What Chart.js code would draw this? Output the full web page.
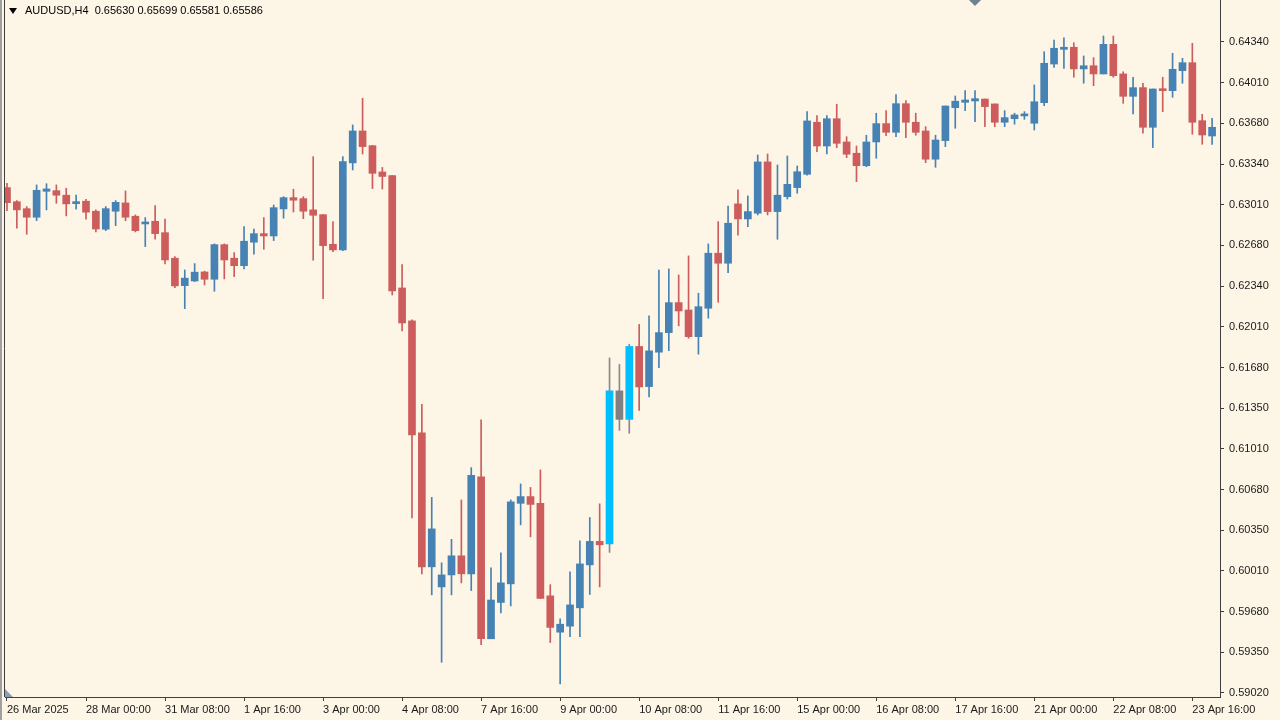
<!DOCTYPE html>
<html>
<head>
<meta charset="utf-8">
<title>AUDUSD,H4</title>
<script src="https://cdn.jsdelivr.net/npm/chart.js@4.4.1/dist/chart.umd.min.js"></script>
<style>
  html, body { margin: 0; padding: 0; background: #fdf5e6; }
  #wrap { position: relative; width: 1280px; height: 720px; overflow: hidden; background: #fdf5e6; }
  #chart { position: absolute; left: 0; top: 0; }
  #header {
    position: absolute; left: 25px; top: 4px;
    font: 11px "Liberation Sans", Arial, sans-serif; color: #000; white-space: pre;
  }
  #menuArrow {
    position: absolute; left: 9px; top: 8px; width: 0; height: 0;
    border-left: 4px solid transparent; border-right: 4px solid transparent; border-top: 6px solid #000;
  }
  #shiftMark {
    position: absolute; left: 969px; top: 0; width: 0; height: 0;
    border-left: 6px solid transparent; border-right: 6px solid transparent; border-top: 6px solid #6f8193;
  }
  #cornerMark {
    position: absolute; left: 5px; top: 689px; width: 0; height: 0;
    border-right: 8px solid transparent; border-bottom: 8px solid #8aa0b6;
  }
  #leftEdge { position: absolute; left: 0; top: 0; width: 2px; height: 720px; background: #a0a0a0; }
</style>
</head>
<body>
<div id="wrap">
  <canvas id="chart" width="1280" height="720"></canvas>
  <div id="leftEdge"></div>
  <div id="menuArrow"></div>
  <div id="header">AUDUSD,H4  0.65630 0.65699 0.65581 0.65586</div>
  <div id="shiftMark"></div>
  <div id="cornerMark"></div>
</div>
<script>
// H4 candles (oldest first)
const opens = [
  0.63150, 0.63035, 0.62978, 0.62908, 0.63120, 0.63125, 0.63088, 0.63019, 0.63039, 0.62957,
  0.62810, 0.62957, 0.63025, 0.62916, 0.62853, 0.62875, 0.62782, 0.62573, 0.62349, 0.62387,
  0.62461, 0.62401, 0.62684, 0.62573, 0.62512, 0.62704, 0.62774, 0.62755, 0.62976, 0.63068,
  0.63060, 0.62968, 0.62929, 0.62687, 0.62641, 0.63352, 0.63613, 0.63493, 0.63278, 0.63249,
  0.62330, 0.62061, 0.61146, 0.60051, 0.59887, 0.59985, 0.60141, 0.59994, 0.60786, 0.59463,
  0.59760, 0.59912, 0.60570, 0.60625, 0.60570, 0.59814, 0.59517, 0.59566, 0.59716, 0.60067,
  0.60259, 0.60239, 0.61489, 0.61256, 0.61852, 0.61524, 0.61805, 0.61965, 0.62210, 0.62150,
  0.61932, 0.62164, 0.62614, 0.62532, 0.63017, 0.62894, 0.62941, 0.63360, 0.62954, 0.63076,
  0.63150, 0.63259, 0.63684, 0.63490, 0.63713, 0.63523, 0.63431, 0.63329, 0.63523, 0.63673,
  0.63602, 0.63836, 0.63684, 0.63613, 0.63382, 0.63534, 0.63803, 0.63847, 0.63858, 0.63874,
  0.63834, 0.63684, 0.63713, 0.63736, 0.63676, 0.63844, 0.64160, 0.64280, 0.64297, 0.64120,
  0.64146, 0.64079, 0.64321, 0.64079, 0.63896, 0.63967, 0.63643, 0.63956, 0.63942, 0.64106,
  0.64171, 0.63697, 0.63572
];
const highs = [
  0.63185, 0.63044, 0.62995, 0.63172, 0.63182, 0.63172, 0.63145, 0.63090, 0.63055, 0.62968,
  0.62995, 0.63044, 0.63123, 0.62927, 0.62905, 0.63003, 0.62892, 0.62586, 0.62477, 0.62529,
  0.62467, 0.62690, 0.62690, 0.62619, 0.62831, 0.62812, 0.62905, 0.63008, 0.63076, 0.63137,
  0.63076, 0.63403, 0.62929, 0.62872, 0.63403, 0.63662, 0.63880, 0.63493, 0.63315, 0.63249,
  0.62522, 0.62069, 0.61378, 0.60619, 0.60084, 0.60276, 0.60598, 0.60862, 0.61252, 0.60043,
  0.60165, 0.60598, 0.60729, 0.60700, 0.60843, 0.59905, 0.59626, 0.60010, 0.60263, 0.60454,
  0.60566, 0.61758, 0.61705, 0.61869, 0.62032, 0.62102, 0.62477, 0.62486, 0.62436, 0.62592,
  0.62287, 0.62690, 0.62872, 0.63000, 0.63131, 0.63082, 0.63417, 0.63425, 0.63335, 0.63409,
  0.63327, 0.63771, 0.63738, 0.63738, 0.63831, 0.63566, 0.63490, 0.63578, 0.63758, 0.63779,
  0.63910, 0.63861, 0.63758, 0.63648, 0.63578, 0.63817, 0.63899, 0.63942, 0.63942, 0.63874,
  0.63834, 0.63779, 0.63758, 0.63771, 0.63989, 0.64261, 0.64356, 0.64375, 0.64334, 0.64226,
  0.64212, 0.64389, 0.64389, 0.64097, 0.64052, 0.64003, 0.63956, 0.64052, 0.64248, 0.64207,
  0.64329, 0.63749, 0.63717
];
const lows = [
  0.62961, 0.62818, 0.62769, 0.62880, 0.62968, 0.63022, 0.62919, 0.62973, 0.62892, 0.62788,
  0.62798, 0.62839, 0.62880, 0.62788, 0.62668, 0.62728, 0.62526, 0.62333, 0.62161, 0.62382,
  0.62355, 0.62303, 0.62404, 0.62423, 0.62486, 0.62606, 0.62646, 0.62717, 0.62900, 0.62951,
  0.62896, 0.62557, 0.62243, 0.62627, 0.62635, 0.63294, 0.63425, 0.63142, 0.63139, 0.62273,
  0.61979, 0.60451, 0.59994, 0.59822, 0.59271, 0.59822, 0.59920, 0.59857, 0.59414, 0.59463,
  0.59675, 0.59732, 0.60394, 0.60296, 0.59792, 0.59432, 0.59095, 0.59481, 0.59481, 0.59825,
  0.59887, 0.60169, 0.61166, 0.61142, 0.61329, 0.61440, 0.61679, 0.61818, 0.62020, 0.61919,
  0.61789, 0.62083, 0.62213, 0.62455, 0.62761, 0.62831, 0.62927, 0.62927, 0.62728, 0.63057,
  0.63104, 0.63251, 0.63444, 0.63425, 0.63477, 0.63395, 0.63199, 0.63321, 0.63390, 0.63575,
  0.63566, 0.63558, 0.63578, 0.63354, 0.63316, 0.63485, 0.63635, 0.63779, 0.63689, 0.63648,
  0.63648, 0.63648, 0.63668, 0.63708, 0.63621, 0.63820, 0.64133, 0.64125, 0.64052, 0.64003,
  0.63983, 0.64079, 0.64052, 0.63839, 0.63752, 0.63594, 0.63477, 0.63771, 0.63888, 0.64003,
  0.63586, 0.63504, 0.63504
];
const closes = [
  0.63027, 0.62968, 0.62908, 0.63128, 0.63139, 0.63088, 0.63017, 0.63035, 0.62949, 0.62812,
  0.62978, 0.63030, 0.62908, 0.62798, 0.62867, 0.62774, 0.62559, 0.62347, 0.62410, 0.62459,
  0.62401, 0.62684, 0.62559, 0.62512, 0.62712, 0.62774, 0.62755, 0.62986, 0.63068, 0.63047,
  0.62957, 0.62924, 0.62676, 0.62641, 0.63362, 0.63613, 0.63485, 0.63267, 0.63241, 0.62306,
  0.62044, 0.61129, 0.60051, 0.60361, 0.59985, 0.60141, 0.59994, 0.60798, 0.59463, 0.59780,
  0.59920, 0.60582, 0.60625, 0.60561, 0.59792, 0.59556, 0.59582, 0.59740, 0.60075, 0.60259,
  0.60231, 0.61489, 0.61256, 0.61852, 0.61521, 0.61816, 0.61965, 0.62210, 0.62142, 0.61932,
  0.62177, 0.62614, 0.62532, 0.62859, 0.62894, 0.62954, 0.63360, 0.62954, 0.63088, 0.63177,
  0.63280, 0.63695, 0.63490, 0.63713, 0.63512, 0.63423, 0.63329, 0.63523, 0.63673, 0.63602,
  0.63836, 0.63684, 0.63602, 0.63382, 0.63539, 0.63817, 0.63856, 0.63866, 0.63877, 0.63812,
  0.63684, 0.63722, 0.63744, 0.63752, 0.63852, 0.64166, 0.64289, 0.64297, 0.64120, 0.64146,
  0.64079, 0.64321, 0.64065, 0.63896, 0.63967, 0.63643, 0.63956, 0.63942, 0.64117, 0.64171,
  0.63684, 0.63580, 0.63643
];

// axis labels as printed on the terminal
const xTickLabels = [
  "26 Mar 2025", "28 Mar 00:00", "31 Mar 08:00", "1 Apr 16:00", "3 Apr 00:00", "4 Apr 08:00",
  "7 Apr 16:00", "9 Apr 00:00", "10 Apr 08:00", "11 Apr 16:00", "15 Apr 00:00", "16 Apr 08:00",
  "17 Apr 16:00", "21 Apr 00:00", "22 Apr 08:00", "23 Apr 16:00"
];
const xTickEvery = 8; // one date label every 8 bars
const yTickLabels = [
  "0.64340", "0.64010", "0.63680", "0.63340", "0.63010", "0.62680", "0.62340", "0.62010",
  "0.61680", "0.61350", "0.61010", "0.60680", "0.60350", "0.60010", "0.59680", "0.59350", "0.59020"
];
const yTop = 0.64340;
const yBottom = 0.59020;
const yMin = 0.589873; // visible price range of the window
const yMax = 0.646832;

// candles the indicator painted differently
const cyanBars = [61, 63];
const grayBars = [62];

const BULL = "#4682b4";
const BEAR = "#cd5c5c";
const FONT = "'Liberation Sans', Arial, sans-serif";

function bodyColor(i) {
  if (cyanBars.includes(i)) return "#00bfff";
  if (grayBars.includes(i)) return "#808080";
  return closes[i] >= opens[i] ? BULL : BEAR;
}
function wickColor(i) {
  if (cyanBars.includes(i) || grayBars.includes(i)) return "#8a8a8a";
  return closes[i] >= opens[i] ? BULL : BEAR;
}

const bodies = opens.map((o, i) => ({ x: i, y: [o, closes[i]] }));
const wicks = lows.map((l, i) => ({ x: i, y: [l, highs[i]] }));

// no label padding: the plot fills the window up to the axes
function noPadding(s) {
  s.paddingTop = 0;
  s.paddingBottom = 0;
  s.paddingLeft = 0;
  s.paddingRight = 0;
}

// left edge of the plot frame (the axes draw right and bottom)
const framePlugin = {
  id: "frame",
  afterDraw(chart) {
    const { ctx, chartArea } = chart;
    ctx.save();
    ctx.strokeStyle = "#404040";
    ctx.lineWidth = 1;
    ctx.beginPath();
    ctx.moveTo(chartArea.left - 0.5, 0);
    ctx.lineTo(chartArea.left - 0.5, chartArea.bottom);
    ctx.stroke();
    ctx.restore();
  }
};

const chart = new Chart(document.getElementById("chart"), {
  type: "bar",
  data: {
    datasets: [
      {
        label: "body",
        data: bodies,
        backgroundColor: (c) => bodyColor(c.dataIndex),
        barThickness: 7,
        minBarLength: 2,
        grouped: false,
        borderWidth: 0,
        order: 0
      },
      {
        label: "wick",
        data: wicks,
        backgroundColor: (c) => wickColor(c.dataIndex),
        barThickness: 1,
        grouped: false,
        borderWidth: 0,
        order: 1
      }
    ]
  },
  options: {
    responsive: false,
    animation: false,
    devicePixelRatio: 1,
    layout: { autoPadding: false, padding: { left: 5, top: 0, right: 0, bottom: 0 } },
    plugins: { legend: { display: false }, tooltip: { enabled: false } },
    scales: {
      x: {
        type: "linear",
        min: -0.2,
        max: 122.8,
        offset: false,
        afterBuildTicks: (s) => {
          s.ticks = xTickLabels.map((t, i) => ({ value: i * xTickEvery }));
        },
        afterFit: (s) => { s.height = 23; noPadding(s); },
        ticks: {
          callback: (v, i) => xTickLabels[i],
          align: "start",
          maxRotation: 0,
          autoSkip: false,
          padding: 2,
          color: "#1a1a1a",
          font: { family: FONT, size: 11 }
        },
        grid: { drawOnChartArea: false, drawTicks: true, tickLength: 4, color: "#404040", offset: false },
        border: { display: true, color: "#404040", width: 1 }
      },
      y: {
        position: "right",
        min: yMin,
        max: yMax,
        afterBuildTicks: (s) => {
          const step = (yTop - yBottom) / (yTickLabels.length - 1);
          s.ticks = yTickLabels.map((t, i) => ({ value: yTop - i * step }));
        },
        afterFit: (s) => { s.width = 60; noPadding(s); },
        ticks: {
          callback: (v, i) => yTickLabels[i],
          autoSkip: false,
          padding: 5,
          color: "#1a1a1a",
          font: { family: FONT, size: 11 }
        },
        grid: { drawOnChartArea: false, drawTicks: true, tickLength: 4, color: "#404040" },
        border: { display: true, color: "#404040", width: 1 }
      }
    }
  },
  plugins: [framePlugin]
});
</script>
</body>
</html>
